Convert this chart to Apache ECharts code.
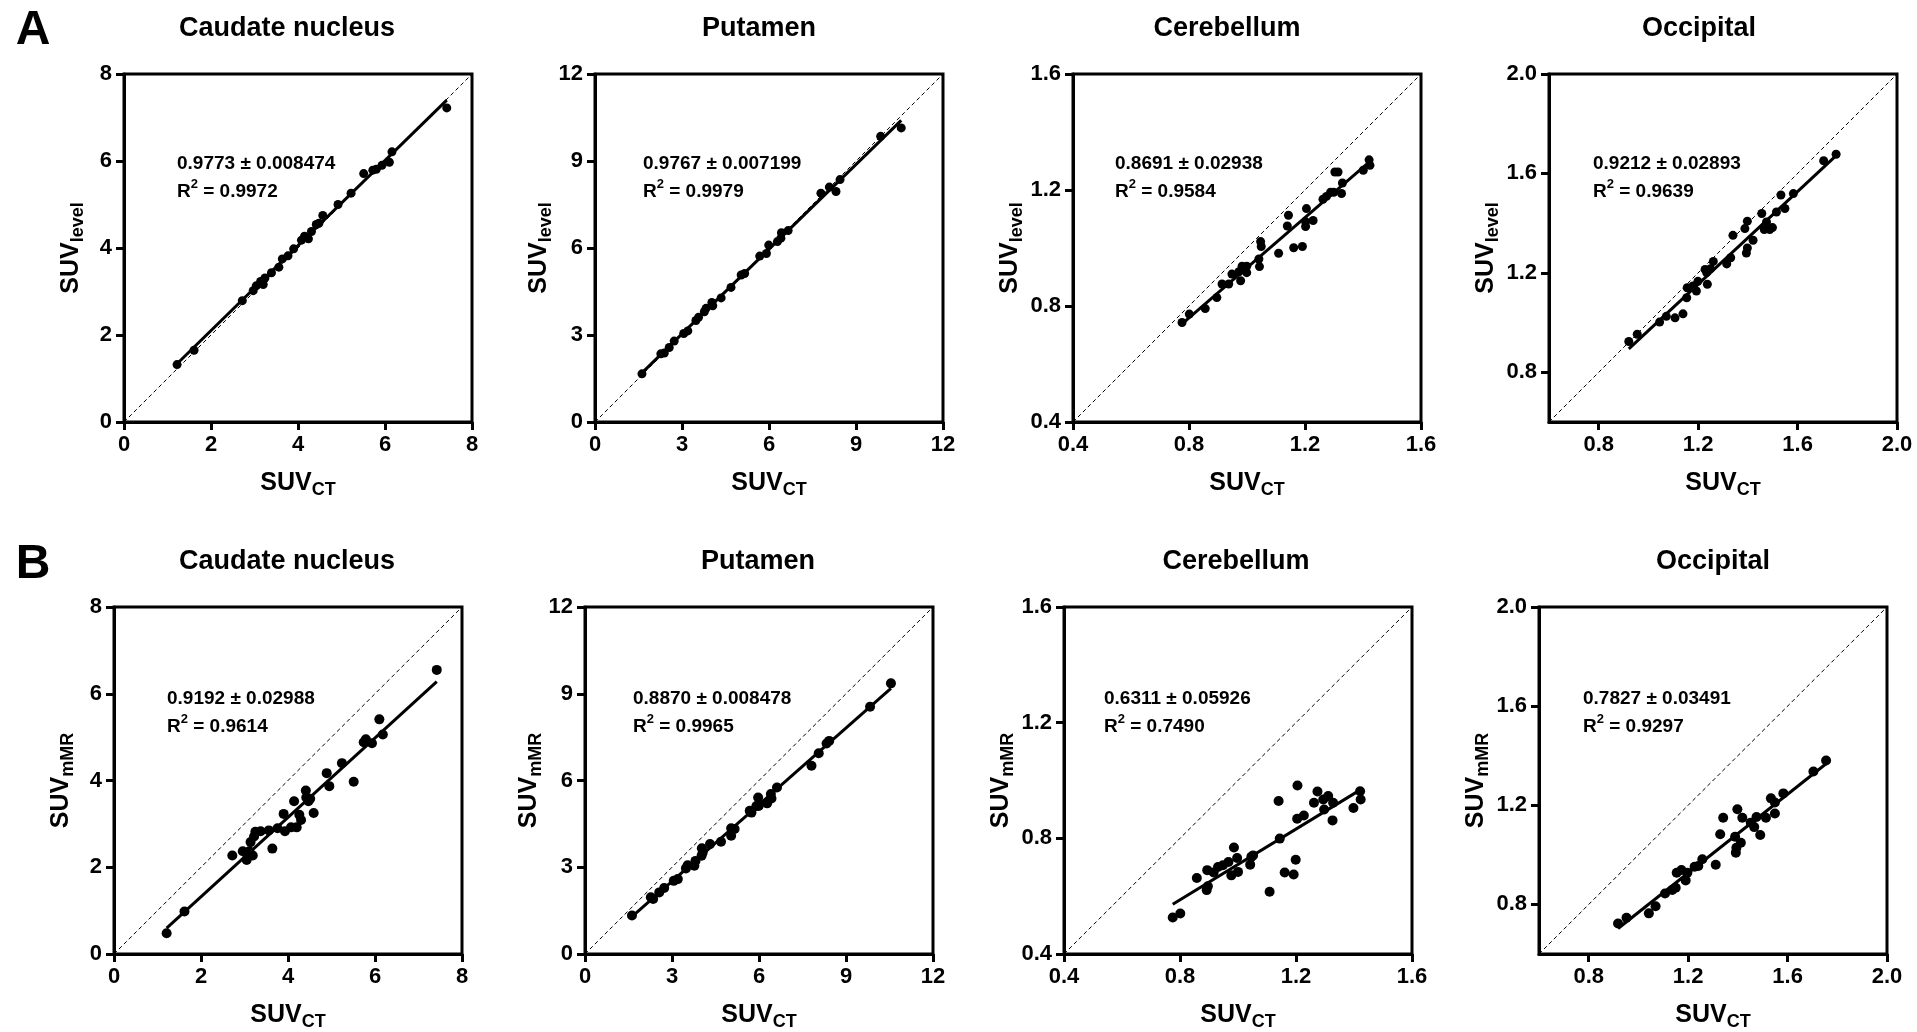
<!DOCTYPE html>
<html><head><meta charset="utf-8">
<script src="https://cdn.jsdelivr.net/npm/echarts@6/dist/echarts.min.js"></script>
<style>html,body{margin:0;padding:0;background:#fff}#c{width:1917px;height:1032px}</style>
</head><body><div id="c"></div>
<script>
// ---------- text / axes ----------
const regions = ['Caudate nucleus', 'Putamen', 'Cerebellum', 'Occipital'];
const rowLetters = ['A', 'B'];
const ySubs = ['level', 'mMR'];
const xSub = 'CT';
const slopeText = [
  ['0.9773 ± 0.008474', '0.9767 ± 0.007199', '0.8691 ± 0.02938', '0.9212 ± 0.02893'],
  ['0.9192 ± 0.02988', '0.8870 ± 0.008478', '0.6311 ± 0.05926', '0.7827 ± 0.03491']
];
const r2Text = [
  ['0.9972', '0.9979', '0.9584', '0.9639'],
  ['0.9614', '0.9965', '0.7490', '0.9297']
];
const axisMin = [0, 0, 0.4, 0.6];
const axisMax = [8, 12, 1.6, 2.0];
const tickValues = [[0, 2, 4, 6, 8], [0, 3, 6, 9, 12], [0.4, 0.8, 1.2, 1.6], [0.8, 1.2, 1.6, 2.0]];
const tickDecimals = [0, 0, 1, 1];

// ---------- data (SUV_CT vs SUV_level / SUV_mMR) ----------
const caudateCT_A = [1.22,1.61,2.72,2.97,3.04,3.14,3.20,3.24,3.39,3.56,3.64,3.77,3.90,4.08,4.15,4.24,4.31,4.42,4.48,4.57,4.92,5.22,5.51,5.72,5.80,5.93,6.10,6.16,7.42];
const caudateLevel = [1.32,1.65,2.79,3.02,3.13,3.23,3.16,3.31,3.43,3.56,3.75,3.82,3.98,4.18,4.27,4.21,4.38,4.54,4.57,4.75,5.00,5.26,5.71,5.79,5.81,5.90,5.97,6.21,7.22];

const putamenCT_A = [1.62,2.27,2.39,2.56,2.73,3.06,3.20,3.48,3.57,3.77,3.83,4.03,4.06,4.35,4.69,5.04,5.16,5.68,5.91,5.99,6.29,6.43,6.41,6.66,7.79,8.08,8.31,8.45,9.85,10.56];
const putamenLevel = [1.66,2.35,2.38,2.57,2.79,3.05,3.14,3.50,3.61,3.80,3.92,4.12,4.01,4.28,4.64,5.07,5.12,5.72,5.81,6.10,6.22,6.53,6.34,6.60,7.89,8.10,7.95,8.36,9.85,10.14];

const cerebellumCT_A = [0.776,0.801,0.856,0.896,0.914,0.937,0.948,0.972,0.978,0.983,0.999,0.999,1.041,1.043,1.047,1.049,1.109,1.139,1.143,1.161,1.191,1.205,1.202,1.202,1.228,1.262,1.274,1.288,1.299,1.303,1.314,1.326,1.329,1.401,1.421,1.424];
const cerebellumLevel = [0.743,0.772,0.791,0.829,0.876,0.876,0.910,0.918,0.887,0.937,0.937,0.915,0.962,0.936,1.022,1.005,0.982,1.076,1.113,1.001,1.005,1.136,1.074,1.091,1.095,1.168,1.178,1.192,1.192,1.262,1.262,1.188,1.224,1.268,1.304,1.285];

const occipitalCT_A = [0.921,0.955,1.045,1.072,1.107,1.139,1.154,1.156,1.179,1.193,1.199,1.228,1.237,1.234,1.250,1.261,1.315,1.331,1.340,1.388,1.398,1.398,1.394,1.421,1.456,1.475,1.466,1.488,1.499,1.515,1.533,1.549,1.583,1.705,1.755];
const occipitalLevel = [0.924,0.953,1.002,1.025,1.019,1.035,1.100,1.140,1.147,1.127,1.166,1.214,1.154,1.201,1.217,1.246,1.236,1.261,1.351,1.378,1.408,1.300,1.280,1.331,1.439,1.405,1.374,1.374,1.382,1.445,1.513,1.459,1.519,1.651,1.677];

const caudateCT_B = [1.21,1.62,2.72,2.96,3.05,3.11,3.19,3.14,3.22,3.25,3.37,3.56,3.64,3.76,3.93,3.90,4.07,4.20,4.14,4.26,4.30,4.41,4.42,4.47,4.51,4.59,4.89,4.95,5.24,5.51,5.74,5.79,5.93,6.10,6.18,7.42];
const caudateMMR = [0.48,0.98,2.27,2.37,2.17,2.37,2.27,2.58,2.71,2.82,2.83,2.85,2.43,2.90,2.83,3.23,2.92,2.92,3.52,3.21,3.09,3.77,3.61,3.52,3.58,3.25,4.17,3.87,4.40,3.97,4.88,4.95,4.86,5.41,5.06,6.55];

const putamenCT_B = [1.62,2.27,2.35,2.56,2.73,3.06,3.20,3.48,3.54,3.77,3.81,4.02,4.03,4.06,4.31,4.69,5.04,5.04,5.16,5.68,5.74,5.91,5.97,5.99,6.28,6.41,6.43,6.62,7.81,8.06,8.33,8.42,9.83,10.55];
const putamenMMR = [1.33,1.96,1.90,2.13,2.28,2.53,2.59,2.96,3.07,3.05,3.22,3.40,3.66,3.51,3.80,3.88,4.09,4.35,4.32,4.95,4.89,5.12,5.41,5.12,5.21,5.53,5.38,5.76,6.51,6.94,7.28,7.37,8.55,9.36];

const cerebellumCT_B = [0.775,0.801,0.858,0.892,0.896,0.894,0.916,0.931,0.948,0.967,0.977,0.986,0.997,1.000,1.042,1.046,1.052,1.109,1.140,1.144,1.161,1.192,1.199,1.205,1.204,1.227,1.262,1.274,1.294,1.297,1.311,1.326,1.328,1.398,1.421,1.423];
const cerebellumMMR = [0.526,0.540,0.663,0.621,0.634,0.690,0.682,0.701,0.707,0.718,0.672,0.768,0.732,0.684,0.709,0.736,0.741,0.615,0.929,0.799,0.682,0.675,0.726,0.983,0.868,0.879,0.923,0.962,0.934,0.900,0.946,0.862,0.923,0.905,0.963,0.934];

const occipitalCT_B = [0.918,0.952,1.042,1.069,1.107,1.136,1.150,1.154,1.173,1.190,1.197,1.226,1.241,1.257,1.311,1.329,1.341,1.392,1.394,1.389,1.398,1.412,1.418,1.452,1.466,1.475,1.490,1.513,1.533,1.549,1.549,1.583,1.704,1.755];
const occipitalMMR = [0.723,0.746,0.764,0.793,0.844,0.858,0.867,0.928,0.939,0.897,0.928,0.952,0.955,0.982,0.960,1.083,1.150,1.009,1.029,1.073,1.184,1.049,1.150,1.130,1.112,1.153,1.080,1.150,1.228,1.167,1.211,1.248,1.336,1.381];

const panelX = [[caudateCT_A, putamenCT_A, cerebellumCT_A, occipitalCT_A],
                [caudateCT_B, putamenCT_B, cerebellumCT_B, occipitalCT_B]];
const panelY = [[caudateLevel, putamenLevel, cerebellumLevel, occipitalLevel],
                [caudateMMR, putamenMMR, cerebellumMMR, occipitalMMR]];

// ---------- layout ----------
const FONT = '"Liberation Sans", Arial, Helvetica, sans-serif';
const gridLeft = [[124, 595, 1073, 1549], [114, 585, 1064, 1539]];
const gridTop = [74, 607];
const gridSize = 348;
const titleCenterX = [[287, 759, 1227, 1699], [287, 758, 1236, 1713]];
const titleCenterY = [29, 562];
const letterCenter = [[33, 31], [33, 565]];
const noteOffsetX = [[53, 48, 42, 44], [53, 48, 40, 44]];
const noteOffsetY = [76, 78];
const dotSize = [9, 10];

function fit(xs, ys) {
  const n = xs.length;
  let sx = 0, sy = 0, sxx = 0, sxy = 0;
  for (let i = 0; i < n; i++) { sx += xs[i]; sy += ys[i]; sxx += xs[i] * xs[i]; sxy += xs[i] * ys[i]; }
  const b = (n * sxy - sx * sy) / (n * sxx - sx * sx);
  const a = (sy - b * sx) / n;
  return { a, b };
}

const option = { animation: false, backgroundColor: '#fff', grid: [], xAxis: [], yAxis: [], series: [], title: [] };

rowLetters.forEach((L, r) => {
  option.title.push({
    text: L, left: letterCenter[r][0], top: letterCenter[r][1] - 26, textAlign: 'center', padding: 0,
    textStyle: { fontSize: 48, fontWeight: 'bold', fontFamily: FONT, color: '#000', lineHeight: 52 }
  });
});

let gi = 0;
for (let r = 0; r < 2; r++) {
  for (let c = 0; c < 4; c++) {
    const i = gi++;
    const xs = panelX[r][c], ys = panelY[r][c];
    option.grid.push({ left: gridLeft[r][c], top: gridTop[r], width: gridSize, height: gridSize,
      show: true, borderColor: '#000', borderWidth: 3, backgroundColor: 'transparent' });
    const mk = (isX) => ({
      type: 'value', gridIndex: i, min: axisMin[c], max: axisMax[c],
      axisLine: { show: true, onZero: false, lineStyle: { color: '#000', width: 3 } },
      axisTick: { show: true, inside: false, length: 8, lineStyle: { color: '#000', width: 3 }, customValues: tickValues[c] },
      axisLabel: { show: true, margin: 12, color: '#000', fontSize: 22, fontWeight: 'bold', fontFamily: FONT,
        customValues: tickValues[c], formatter: v => Number(v).toFixed(tickDecimals[c]) },
      splitLine: { show: false },
      nameLocation: 'middle',
      name: isX ? '{m|SUV}{s|' + xSub + '}' : '{m|SUV}{s|' + ySubs[r] + '}',
      nameGap: isX ? 45 : 37,
      nameRotate: isX ? 0 : 90,
      nameTextStyle: {
        rich: {
          m: { fontSize: 25, fontWeight: 'bold', fontFamily: FONT, color: '#000', lineHeight: 32 },
          s: { fontSize: 18, fontWeight: 'bold', fontFamily: FONT, color: '#000', lineHeight: 14, verticalAlign: 'bottom' }
        }
      }
    });
    option.xAxis.push(mk(true));
    option.yAxis.push(mk(false));

    // identity line
    option.series.push({ type: 'line', xAxisIndex: i, yAxisIndex: i, silent: true, symbol: 'none', z: 1,
      data: [[axisMin[c], axisMin[c]], [axisMax[c], axisMax[c]]],
      lineStyle: { color: '#000', width: 1, type: [4, 3] } });
    // regression line
    const f = fit(xs, ys);
    const x0 = Math.min(...xs), x1 = Math.max(...xs);
    option.series.push({ type: 'line', xAxisIndex: i, yAxisIndex: i, silent: true, symbol: 'none', z: 2,
      data: [[x0, f.a + f.b * x0], [x1, f.a + f.b * x1]],
      lineStyle: { color: '#000', width: 3 } });
    // points
    option.series.push({ type: 'scatter', xAxisIndex: i, yAxisIndex: i, z: 3, symbol: 'circle', symbolSize: dotSize[r],
      data: xs.map((v, k) => [v, ys[k]]), itemStyle: { color: '#000', opacity: 1 } });

    // panel title
    option.title.push({
      text: regions[c], left: titleCenterX[r][c], top: titleCenterY[r] - 16, textAlign: 'center', padding: 0,
      textStyle: { fontSize: 27, fontWeight: 'bold', fontFamily: FONT, color: '#000', lineHeight: 32 }
    });
    // annotation
    option.title.push({
      text: '{a|' + slopeText[r][c] + '}\n{a|R}{p|2}{a| = ' + r2Text[r][c] + '}',
      left: gridLeft[r][c] + noteOffsetX[r][c], top: gridTop[r] + noteOffsetY[r], padding: 0,
      textStyle: { rich: {
        a: { fontSize: 19, fontWeight: 'bold', fontFamily: FONT, color: '#000', lineHeight: 28 },
        p: { fontSize: 13, fontWeight: 'bold', fontFamily: FONT, color: '#000', lineHeight: 16, verticalAlign: 'top' }
      } }
    });
  }
}

const chart = echarts.init(document.getElementById('c'), null, { renderer: 'canvas' });
chart.setOption(option);
</script>
</body></html>
